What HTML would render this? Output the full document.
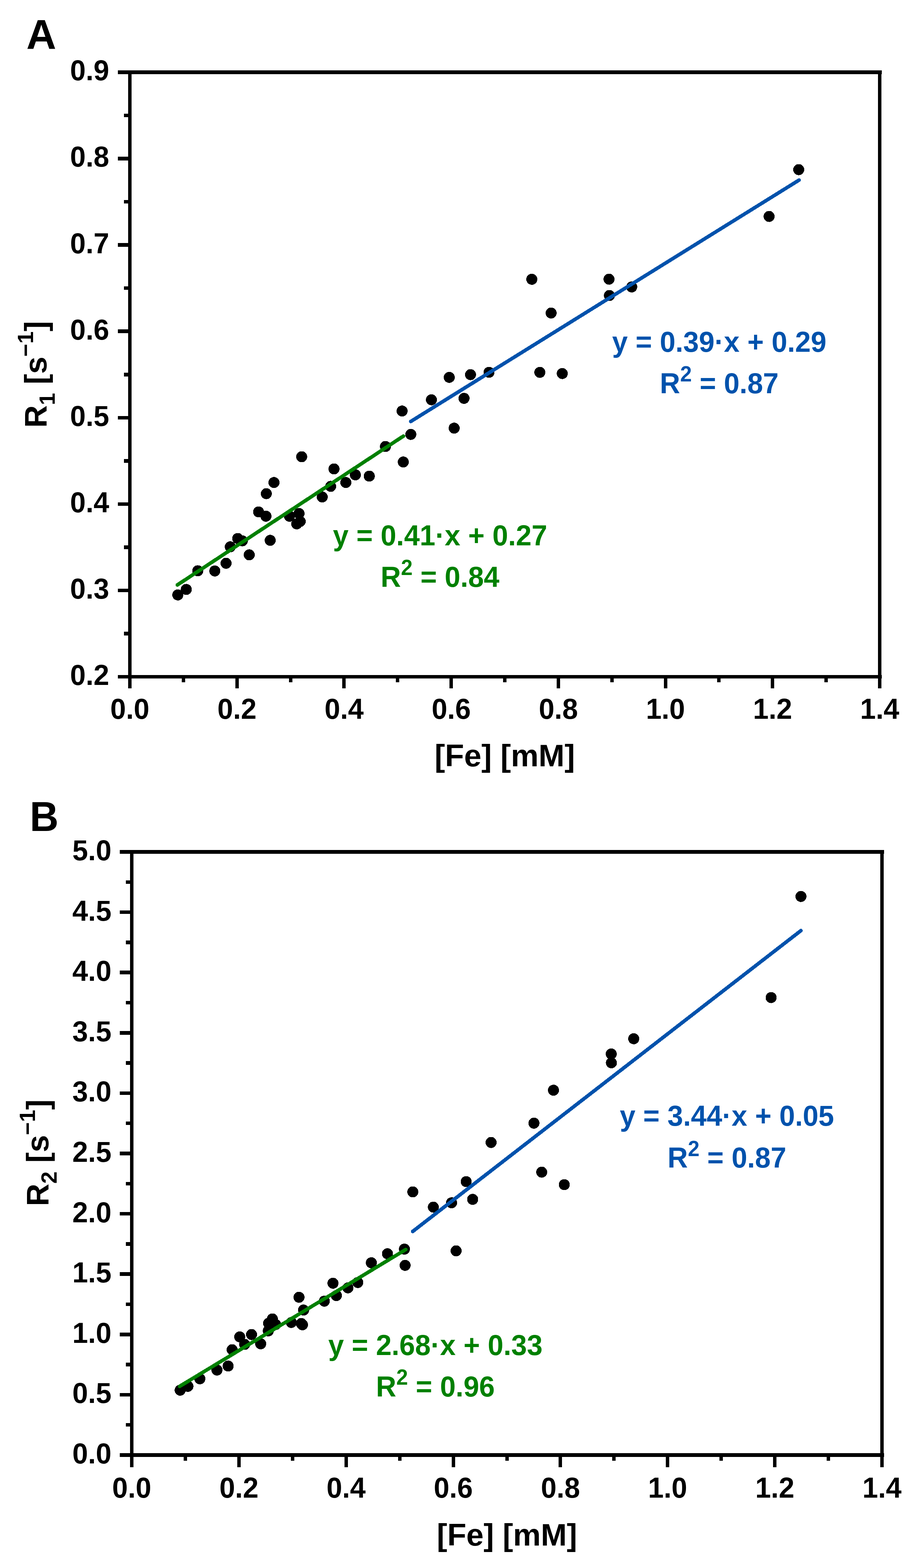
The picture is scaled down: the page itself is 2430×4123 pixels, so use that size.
<!DOCTYPE html>
<html><head><meta charset="utf-8"><title>Relaxation rates vs iron concentration</title>
<style>html,body{margin:0;padding:0;background:#fff;}body{width:2430px;height:4123px;overflow:hidden;}svg{display:block;}</style>
</head><body>
<svg width="2430" height="4123" viewBox="0 0 2430 4123" font-family="'Liberation Sans', sans-serif" font-weight="bold">
<rect width="2430" height="4123" fill="#fff"/>
<g shape-rendering="crispEdges">
<rect x="310" y="185" width="2009" height="10" fill="#000"/>
<rect x="310" y="1775" width="2009" height="9" fill="#000"/>
<rect x="337" y="185" width="9" height="1625" fill="#000"/>
<rect x="2309" y="185" width="9" height="1625" fill="#000"/>
<rect x="310" y="1774.75" width="27" height="9.5" fill="#000"/>
<text transform="translate(287.2 1800.9) scale(1 1.03)" font-size="74" text-anchor="end" fill="#000">0.2</text>
<rect x="326" y="1661.21" width="11" height="9.5" fill="#000"/>
<rect x="310" y="1547.68" width="27" height="9.5" fill="#000"/>
<text transform="translate(287.2 1573.83) scale(1 1.03)" font-size="74" text-anchor="end" fill="#000">0.3</text>
<rect x="326" y="1434.14" width="11" height="9.5" fill="#000"/>
<rect x="310" y="1320.61" width="27" height="9.5" fill="#000"/>
<text transform="translate(287.2 1346.76) scale(1 1.03)" font-size="74" text-anchor="end" fill="#000">0.4</text>
<rect x="326" y="1207.07" width="11" height="9.5" fill="#000"/>
<rect x="310" y="1093.54" width="27" height="9.5" fill="#000"/>
<text transform="translate(287.2 1119.69) scale(1 1.03)" font-size="74" text-anchor="end" fill="#000">0.5</text>
<rect x="326" y="980" width="11" height="9.5" fill="#000"/>
<rect x="310" y="866.46" width="27" height="9.5" fill="#000"/>
<text transform="translate(287.2 892.61) scale(1 1.03)" font-size="74" text-anchor="end" fill="#000">0.6</text>
<rect x="326" y="752.93" width="11" height="9.5" fill="#000"/>
<rect x="310" y="639.39" width="27" height="9.5" fill="#000"/>
<text transform="translate(287.2 665.54) scale(1 1.03)" font-size="74" text-anchor="end" fill="#000">0.7</text>
<rect x="326" y="525.86" width="11" height="9.5" fill="#000"/>
<rect x="310" y="412.32" width="27" height="9.5" fill="#000"/>
<text transform="translate(287.2 438.47) scale(1 1.03)" font-size="74" text-anchor="end" fill="#000">0.8</text>
<rect x="326" y="298.79" width="11" height="9.5" fill="#000"/>
<rect x="310" y="185.25" width="27" height="9.5" fill="#000"/>
<text transform="translate(287.2 211.4) scale(1 1.03)" font-size="74" text-anchor="end" fill="#000">0.9</text>
<rect x="337" y="1784" width="9" height="26" fill="#000"/>
<text transform="translate(341.5 1890.2) scale(1 1.03)" font-size="74" text-anchor="middle" fill="#000">0.0</text>
<rect x="477.86" y="1784" width="9" height="10" fill="#000"/>
<rect x="618.71" y="1784" width="9" height="26" fill="#000"/>
<text transform="translate(623.21 1890.2) scale(1 1.03)" font-size="74" text-anchor="middle" fill="#000">0.2</text>
<rect x="759.57" y="1784" width="9" height="10" fill="#000"/>
<rect x="900.43" y="1784" width="9" height="26" fill="#000"/>
<text transform="translate(904.93 1890.2) scale(1 1.03)" font-size="74" text-anchor="middle" fill="#000">0.4</text>
<rect x="1041.29" y="1784" width="9" height="10" fill="#000"/>
<rect x="1182.14" y="1784" width="9" height="26" fill="#000"/>
<text transform="translate(1186.64 1890.2) scale(1 1.03)" font-size="74" text-anchor="middle" fill="#000">0.6</text>
<rect x="1323" y="1784" width="9" height="10" fill="#000"/>
<rect x="1463.86" y="1784" width="9" height="26" fill="#000"/>
<text transform="translate(1468.36 1890.2) scale(1 1.03)" font-size="74" text-anchor="middle" fill="#000">0.8</text>
<rect x="1604.71" y="1784" width="9" height="10" fill="#000"/>
<rect x="1745.57" y="1784" width="9" height="26" fill="#000"/>
<text transform="translate(1750.07 1890.2) scale(1 1.03)" font-size="74" text-anchor="middle" fill="#000">1.0</text>
<rect x="1886.43" y="1784" width="9" height="10" fill="#000"/>
<rect x="2027.29" y="1784" width="9" height="26" fill="#000"/>
<text transform="translate(2031.79 1890.2) scale(1 1.03)" font-size="74" text-anchor="middle" fill="#000">1.2</text>
<rect x="2168.14" y="1784" width="9" height="10" fill="#000"/>
<rect x="2309" y="1784" width="9" height="26" fill="#000"/>
<text transform="translate(2313.5 1890.2) scale(1 1.03)" font-size="74" text-anchor="middle" fill="#000">1.4</text>
</g>
<g fill="#000" shape-rendering="crispEdges">
<circle cx="467.6" cy="1564.3" r="14.5"/>
<circle cx="489.8" cy="1549.9" r="14.5"/>
<circle cx="520.1" cy="1500.9" r="14.5"/>
<circle cx="564.9" cy="1501.3" r="14.5"/>
<circle cx="594.5" cy="1481.1" r="14.5"/>
<circle cx="605.6" cy="1437.8" r="14.5"/>
<circle cx="625.2" cy="1416" r="14.5"/>
<circle cx="637.3" cy="1422.1" r="14.5"/>
<circle cx="655.5" cy="1458.9" r="14.5"/>
<circle cx="680" cy="1346" r="14.5"/>
<circle cx="699.4" cy="1357.3" r="14.5"/>
<circle cx="700.4" cy="1298.1" r="14.5"/>
<circle cx="720.5" cy="1268.8" r="14.5"/>
<circle cx="710.6" cy="1420.8" r="14.5"/>
<circle cx="761.3" cy="1357.4" r="14.5"/>
<circle cx="786.4" cy="1350.3" r="14.5"/>
<circle cx="780.3" cy="1377.5" r="14.5"/>
<circle cx="789.5" cy="1371" r="14.5"/>
<circle cx="793.4" cy="1201" r="14.5"/>
<circle cx="847.4" cy="1306.8" r="14.5"/>
<circle cx="869.6" cy="1278.9" r="14.5"/>
<circle cx="878.3" cy="1233" r="14.5"/>
<circle cx="909.5" cy="1268.8" r="14.5"/>
<circle cx="934.6" cy="1248.6" r="14.5"/>
<circle cx="971.2" cy="1252" r="14.5"/>
<circle cx="1013.7" cy="1174" r="14.5"/>
<circle cx="1060.6" cy="1214.8" r="14.5"/>
<circle cx="1080.4" cy="1142.2" r="14.5"/>
<circle cx="1057.5" cy="1080.8" r="14.5"/>
<circle cx="1134.6" cy="1051.2" r="14.5"/>
<circle cx="1181.5" cy="992.2" r="14.5"/>
<circle cx="1237.4" cy="985.1" r="14.5"/>
<circle cx="1286" cy="979" r="14.5"/>
<circle cx="1220.3" cy="1047.4" r="14.5"/>
<circle cx="1194.4" cy="1125.8" r="14.5"/>
<circle cx="1398.6" cy="734.3" r="14.5"/>
<circle cx="1449.4" cy="823.1" r="14.5"/>
<circle cx="1419.7" cy="979.1" r="14.5"/>
<circle cx="1478.7" cy="982.2" r="14.5"/>
<circle cx="1601.6" cy="734.1" r="14.5"/>
<circle cx="1602.6" cy="777" r="14.5"/>
<circle cx="1661.3" cy="754.5" r="14.5"/>
<circle cx="2022.6" cy="569.1" r="14.5"/>
<circle cx="2100.5" cy="446.1" r="14.5"/>
</g>
<line x1="466.3" y1="1538.2" x2="1061" y2="1146.6" stroke="#008000" stroke-width="9.5" stroke-linecap="round" shape-rendering="crispEdges"/>
<line x1="1080.2" y1="1108.3" x2="2101.5" y2="473.5" stroke="#0052AC" stroke-width="9.5" stroke-linecap="round" shape-rendering="crispEdges"/>
<text transform="translate(69.3 127.9) scale(1 1.0)" font-size="109" text-anchor="start" fill="#000">A</text>
<text transform="translate(122 984.5) rotate(-90)" font-size="82" text-anchor="middle">R<tspan font-size="58" dy="22">1</tspan><tspan dy="-22"> [s</tspan><tspan font-size="58" dy="-35">−1</tspan><tspan dy="35">]</tspan></text>
<text transform="translate(1327.5 2014.5) scale(1 1.0)" font-size="82" text-anchor="middle" fill="#000">[Fe] [mM]</text>
<text transform="translate(1891.5 924.8) scale(1 1.035)" font-size="74" text-anchor="middle" fill="#0052AC">y = 0.39·x + 0.29</text>
<text transform="translate(1891.5 1033.8) scale(1 1.035)" font-size="74" text-anchor="middle" fill="#0052AC">R<tspan font-size="55" dy="-29.5">2</tspan><tspan dy="29.5"> = 0.87</tspan></text>
<text transform="translate(1157.3 1433.5) scale(1 1.035)" font-size="74" text-anchor="middle" fill="#008000">y = 0.41·x + 0.27</text>
<text transform="translate(1157.3 1542.8) scale(1 1.035)" font-size="74" text-anchor="middle" fill="#008000">R<tspan font-size="55" dy="-29.5">2</tspan><tspan dy="29.5"> = 0.84</tspan></text>
<g shape-rendering="crispEdges">
<rect x="315" y="2235" width="2010" height="10" fill="#000"/>
<rect x="315" y="3821" width="2010" height="10" fill="#000"/>
<rect x="342" y="2235" width="9" height="1623" fill="#000"/>
<rect x="2315" y="2235" width="9" height="1623" fill="#000"/>
<rect x="315" y="3821.25" width="27" height="9.5" fill="#000"/>
<text transform="translate(293.1 3848) scale(1 1.03)" font-size="74" text-anchor="end" fill="#000">0.0</text>
<rect x="331" y="3741.95" width="11" height="9.5" fill="#000"/>
<rect x="315" y="3662.65" width="27" height="9.5" fill="#000"/>
<text transform="translate(293.1 3689.4) scale(1 1.03)" font-size="74" text-anchor="end" fill="#000">0.5</text>
<rect x="331" y="3583.35" width="11" height="9.5" fill="#000"/>
<rect x="315" y="3504.05" width="27" height="9.5" fill="#000"/>
<text transform="translate(293.1 3530.8) scale(1 1.03)" font-size="74" text-anchor="end" fill="#000">1.0</text>
<rect x="331" y="3424.75" width="11" height="9.5" fill="#000"/>
<rect x="315" y="3345.45" width="27" height="9.5" fill="#000"/>
<text transform="translate(293.1 3372.2) scale(1 1.03)" font-size="74" text-anchor="end" fill="#000">1.5</text>
<rect x="331" y="3266.15" width="11" height="9.5" fill="#000"/>
<rect x="315" y="3186.85" width="27" height="9.5" fill="#000"/>
<text transform="translate(293.1 3213.6) scale(1 1.03)" font-size="74" text-anchor="end" fill="#000">2.0</text>
<rect x="331" y="3107.55" width="11" height="9.5" fill="#000"/>
<rect x="315" y="3028.25" width="27" height="9.5" fill="#000"/>
<text transform="translate(293.1 3055) scale(1 1.03)" font-size="74" text-anchor="end" fill="#000">2.5</text>
<rect x="331" y="2948.95" width="11" height="9.5" fill="#000"/>
<rect x="315" y="2869.65" width="27" height="9.5" fill="#000"/>
<text transform="translate(293.1 2896.4) scale(1 1.03)" font-size="74" text-anchor="end" fill="#000">3.0</text>
<rect x="331" y="2790.35" width="11" height="9.5" fill="#000"/>
<rect x="315" y="2711.05" width="27" height="9.5" fill="#000"/>
<text transform="translate(293.1 2737.8) scale(1 1.03)" font-size="74" text-anchor="end" fill="#000">3.5</text>
<rect x="331" y="2631.75" width="11" height="9.5" fill="#000"/>
<rect x="315" y="2552.45" width="27" height="9.5" fill="#000"/>
<text transform="translate(293.1 2579.2) scale(1 1.03)" font-size="74" text-anchor="end" fill="#000">4.0</text>
<rect x="331" y="2473.15" width="11" height="9.5" fill="#000"/>
<rect x="315" y="2393.85" width="27" height="9.5" fill="#000"/>
<text transform="translate(293.1 2420.6) scale(1 1.03)" font-size="74" text-anchor="end" fill="#000">4.5</text>
<rect x="331" y="2314.55" width="11" height="9.5" fill="#000"/>
<rect x="315" y="2235.25" width="27" height="9.5" fill="#000"/>
<text transform="translate(293.1 2262) scale(1 1.03)" font-size="74" text-anchor="end" fill="#000">5.0</text>
<rect x="342" y="3831" width="9" height="27" fill="#000"/>
<text transform="translate(346.5 3938) scale(1 1.03)" font-size="74" text-anchor="middle" fill="#000">0.0</text>
<rect x="482.93" y="3831" width="9" height="10" fill="#000"/>
<rect x="623.86" y="3831" width="9" height="27" fill="#000"/>
<text transform="translate(628.36 3938) scale(1 1.03)" font-size="74" text-anchor="middle" fill="#000">0.2</text>
<rect x="764.79" y="3831" width="9" height="10" fill="#000"/>
<rect x="905.71" y="3831" width="9" height="27" fill="#000"/>
<text transform="translate(910.21 3938) scale(1 1.03)" font-size="74" text-anchor="middle" fill="#000">0.4</text>
<rect x="1046.64" y="3831" width="9" height="10" fill="#000"/>
<rect x="1187.57" y="3831" width="9" height="27" fill="#000"/>
<text transform="translate(1192.07 3938) scale(1 1.03)" font-size="74" text-anchor="middle" fill="#000">0.6</text>
<rect x="1328.5" y="3831" width="9" height="10" fill="#000"/>
<rect x="1469.43" y="3831" width="9" height="27" fill="#000"/>
<text transform="translate(1473.93 3938) scale(1 1.03)" font-size="74" text-anchor="middle" fill="#000">0.8</text>
<rect x="1610.36" y="3831" width="9" height="10" fill="#000"/>
<rect x="1751.29" y="3831" width="9" height="27" fill="#000"/>
<text transform="translate(1755.79 3938) scale(1 1.03)" font-size="74" text-anchor="middle" fill="#000">1.0</text>
<rect x="1892.21" y="3831" width="9" height="10" fill="#000"/>
<rect x="2033.14" y="3831" width="9" height="27" fill="#000"/>
<text transform="translate(2037.64 3938) scale(1 1.03)" font-size="74" text-anchor="middle" fill="#000">1.2</text>
<rect x="2174.07" y="3831" width="9" height="10" fill="#000"/>
<rect x="2315" y="3831" width="9" height="27" fill="#000"/>
<text transform="translate(2319.5 3938) scale(1 1.03)" font-size="74" text-anchor="middle" fill="#000">1.4</text>
</g>
<g fill="#000" shape-rendering="crispEdges">
<circle cx="473.8" cy="3655.4" r="14.5"/>
<circle cx="494.2" cy="3645.3" r="14.5"/>
<circle cx="525.6" cy="3625.4" r="14.5"/>
<circle cx="570.6" cy="3602.4" r="14.5"/>
<circle cx="599.9" cy="3591.9" r="14.5"/>
<circle cx="610.5" cy="3549" r="14.5"/>
<circle cx="630.5" cy="3515.2" r="14.5"/>
<circle cx="643.4" cy="3535" r="14.5"/>
<circle cx="661.5" cy="3509.1" r="14.5"/>
<circle cx="685.6" cy="3533.4" r="14.5"/>
<circle cx="706.4" cy="3479.5" r="14.5"/>
<circle cx="705.5" cy="3499.5" r="14.5"/>
<circle cx="716.3" cy="3468" r="14.5"/>
<circle cx="724.8" cy="3482.8" r="14.5"/>
<circle cx="766.2" cy="3477.4" r="14.5"/>
<circle cx="786.3" cy="3411.1" r="14.5"/>
<circle cx="792.4" cy="3480.1" r="14.5"/>
<circle cx="795.4" cy="3483.4" r="14.5"/>
<circle cx="798.3" cy="3444.7" r="14.5"/>
<circle cx="852.9" cy="3421.3" r="14.5"/>
<circle cx="875.7" cy="3374.2" r="14.5"/>
<circle cx="884.7" cy="3406.7" r="14.5"/>
<circle cx="915.1" cy="3386.4" r="14.5"/>
<circle cx="940.9" cy="3372.3" r="14.5"/>
<circle cx="976.6" cy="3320.4" r="14.5"/>
<circle cx="1019" cy="3296.7" r="14.5"/>
<circle cx="1063.6" cy="3284.5" r="14.5"/>
<circle cx="1065.4" cy="3327.2" r="14.5"/>
<circle cx="1085.6" cy="3134" r="14.5"/>
<circle cx="1139.6" cy="3174.1" r="14.5"/>
<circle cx="1187.6" cy="3162.7" r="14.5"/>
<circle cx="1243" cy="3153.7" r="14.5"/>
<circle cx="1226" cy="3107" r="14.5"/>
<circle cx="1199.5" cy="3289.1" r="14.5"/>
<circle cx="1291.5" cy="3004.1" r="14.5"/>
<circle cx="1404.2" cy="2953.3" r="14.5"/>
<circle cx="1455.6" cy="2866.7" r="14.5"/>
<circle cx="1424.6" cy="3082.1" r="14.5"/>
<circle cx="1484" cy="3115" r="14.5"/>
<circle cx="1607.5" cy="2771.2" r="14.5"/>
<circle cx="1607.9" cy="2794.6" r="14.5"/>
<circle cx="1666.6" cy="2731.3" r="14.5"/>
<circle cx="2028" cy="2623.1" r="14.5"/>
<circle cx="2106.4" cy="2357.2" r="14.5"/>
</g>
<line x1="472.3" y1="3645.4" x2="1067.1" y2="3285.6" stroke="#008000" stroke-width="9.5" stroke-linecap="round" shape-rendering="crispEdges"/>
<line x1="1085.3" y1="3238.1" x2="2106.4" y2="2447" stroke="#0052AC" stroke-width="9.5" stroke-linecap="round" shape-rendering="crispEdges"/>
<text transform="translate(78.2 2185.1) scale(1 1.045)" font-size="105" text-anchor="start" fill="#000">B</text>
<text transform="translate(127.3 3031.3) rotate(-90)" font-size="82" text-anchor="middle">R<tspan font-size="58" dy="22">2</tspan><tspan dy="-22"> [s</tspan><tspan font-size="58" dy="-35">−1</tspan><tspan dy="35">]</tspan></text>
<text transform="translate(1333.3 4064.4) scale(1 1.0)" font-size="82" text-anchor="middle" fill="#000">[Fe] [mM]</text>
<text transform="translate(1911.7 2960.4) scale(1 1.035)" font-size="74" text-anchor="middle" fill="#0052AC">y = 3.44·x + 0.05</text>
<text transform="translate(1911.7 3070.2) scale(1 1.035)" font-size="74" text-anchor="middle" fill="#0052AC">R<tspan font-size="55" dy="-29.5">2</tspan><tspan dy="29.5"> = 0.87</tspan></text>
<text transform="translate(1145 3562.8) scale(1 1.035)" font-size="74" text-anchor="middle" fill="#008000">y = 2.68·x + 0.33</text>
<text transform="translate(1145 3671.5) scale(1 1.035)" font-size="74" text-anchor="middle" fill="#008000">R<tspan font-size="55" dy="-29.5">2</tspan><tspan dy="29.5"> = 0.96</tspan></text>
</svg>
</body></html>
